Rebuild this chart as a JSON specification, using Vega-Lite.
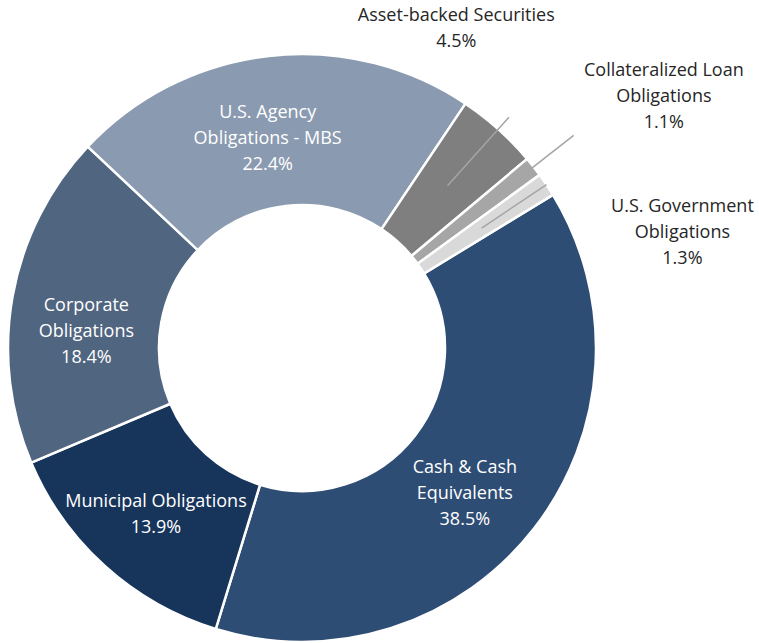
{
  "$schema": "https://vega.github.io/schema/vega-lite/v6.json",
  "width": 604,
  "height": 590,
  "autosize": "none",
  "padding": {"left": 0, "top": 53, "right": 155, "bottom": 0},
  "background": "white",
  "config": {"view": {"stroke": null}},
  "data": {
    "values": [
      {"cat": "Cash & Cash Equivalents", "label": "Cash & Cash\nEquivalents\n38.5%", "pct": 38.5, "rank": 1},
      {"cat": "Municipal Obligations", "label": "Municipal Obligations\n13.9%", "pct": 13.9, "rank": 2},
      {"cat": "Corporate Obligations", "label": "Corporate\nObligations\n18.4%", "pct": 18.4, "rank": 3},
      {"cat": "U.S. Agency Obligations - MBS", "label": "U.S. Agency\nObligations - MBS\n22.4%", "pct": 22.4, "rank": 4},
      {"cat": "Asset-backed Securities", "label": "Asset-backed Securities\n4.5%", "pct": 4.5, "rank": 5},
      {"cat": "Collateralized Loan Obligations", "label": "Collateralized Loan\nObligations\n1.1%", "pct": 1.1, "rank": 6},
      {"cat": "U.S. Government Obligations", "label": "U.S. Government\nObligations\n1.3%", "pct": 1.3, "rank": 7}
    ]
  },
  "encoding": {
    "theta": {"field": "pct", "type": "quantitative", "stack": true, "scale": {"range": [1.02276, 7.30594]}},
    "order": {"field": "rank", "type": "quantitative", "sort": "ascending"}
  },
  "layer": [
    {
      "mark": {"type": "arc", "innerRadius": 143, "outerRadius": 294, "stroke": "white", "strokeWidth": 2.5},
      "encoding": {
        "color": {
          "field": "cat", "type": "nominal", "legend": null,
          "scale": {
            "domain": ["Cash & Cash Equivalents", "Municipal Obligations", "Corporate Obligations", "U.S. Agency Obligations - MBS", "Asset-backed Securities", "Collateralized Loan Obligations", "U.S. Government Obligations"],
            "range": ["#2E4D75", "#17345B", "#506580", "#8A9AB0", "#7F7F7F", "#A6A6A6", "#D9D9D9"]
          }
        }
      }
    },
    {
      "mark": {"type": "arc", "innerRadius": 218, "outerRadius": 310, "padAngle": 3.14, "filled": false, "strokeWidth": 1.5},
      "encoding": {
        "stroke": {"condition": {"test": "datum.rank === 5", "value": "#A5A5A5"}, "value": "transparent"}
      }
    },
    {
      "mark": {"type": "arc", "innerRadius": 232, "outerRadius": 345, "padAngle": 3.14, "filled": false, "strokeWidth": 1.5},
      "encoding": {
        "stroke": {"condition": {"test": "datum.rank === 6", "value": "#A5A5A5"}, "value": "transparent"}
      }
    },
    {
      "mark": {"type": "arc", "innerRadius": 216, "outerRadius": 294, "padAngle": 3.14, "filled": false, "strokeWidth": 1.5},
      "encoding": {
        "stroke": {"condition": {"test": "datum.rank === 7", "value": "#A5A5A5"}, "value": "transparent"}
      }
    },
    {
      "mark": {"type": "text", "radius": 215, "dx": -10, "dy": -21, "font": "Open Sans", "fontSize": 18, "lineHeight": 26, "lineBreak": "\n", "fill": "white", "align": "center", "baseline": "middle"},
      "encoding": {"text": {"condition": {"test": "datum.rank === 4", "field": "label"}, "value": ""}}
    },
    {
      "mark": {"type": "text", "radius": 215, "dx": -4, "dy": -4, "font": "Open Sans", "fontSize": 18, "lineHeight": 26, "lineBreak": "\n", "fill": "white", "align": "center", "baseline": "middle"},
      "encoding": {"text": {"condition": {"test": "datum.rank === 3", "field": "label"}, "value": ""}}
    },
    {
      "mark": {"type": "text", "radius": 215, "dx": -2, "dy": -6, "font": "Open Sans", "fontSize": 18, "lineHeight": 26, "lineBreak": "\n", "fill": "white", "align": "center", "baseline": "middle"},
      "encoding": {"text": {"condition": {"test": "datum.rank === 2", "field": "label"}, "value": ""}}
    },
    {
      "mark": {"type": "text", "radius": 215, "dx": -7, "dy": -12, "font": "Open Sans", "fontSize": 18, "lineHeight": 26, "lineBreak": "\n", "fill": "white", "align": "center", "baseline": "middle"},
      "encoding": {"text": {"condition": {"test": "datum.rank === 1", "field": "label"}, "value": ""}}
    },
    {
      "mark": {"type": "text", "radius": 330, "dx": -66, "dy": -86, "font": "Open Sans", "fontSize": 18, "lineHeight": 26, "lineBreak": "\n", "fill": "#262626", "align": "center", "baseline": "middle"},
      "encoding": {"text": {"condition": {"test": "datum.rank === 5", "field": "label"}, "value": ""}}
    },
    {
      "mark": {"type": "text", "radius": 330, "dx": 102, "dy": -74, "font": "Open Sans", "fontSize": 18, "lineHeight": 26, "lineBreak": "\n", "fill": "#262626", "align": "center", "baseline": "middle"},
      "encoding": {"text": {"condition": {"test": "datum.rank === 6", "field": "label"}, "value": ""}}
    },
    {
      "mark": {"type": "text", "radius": 330, "dx": 106, "dy": 42, "font": "Open Sans", "fontSize": 18, "lineHeight": 26, "lineBreak": "\n", "fill": "#262626", "align": "center", "baseline": "middle"},
      "encoding": {"text": {"condition": {"test": "datum.rank === 7", "field": "label"}, "value": ""}}
    }
  ]
}
